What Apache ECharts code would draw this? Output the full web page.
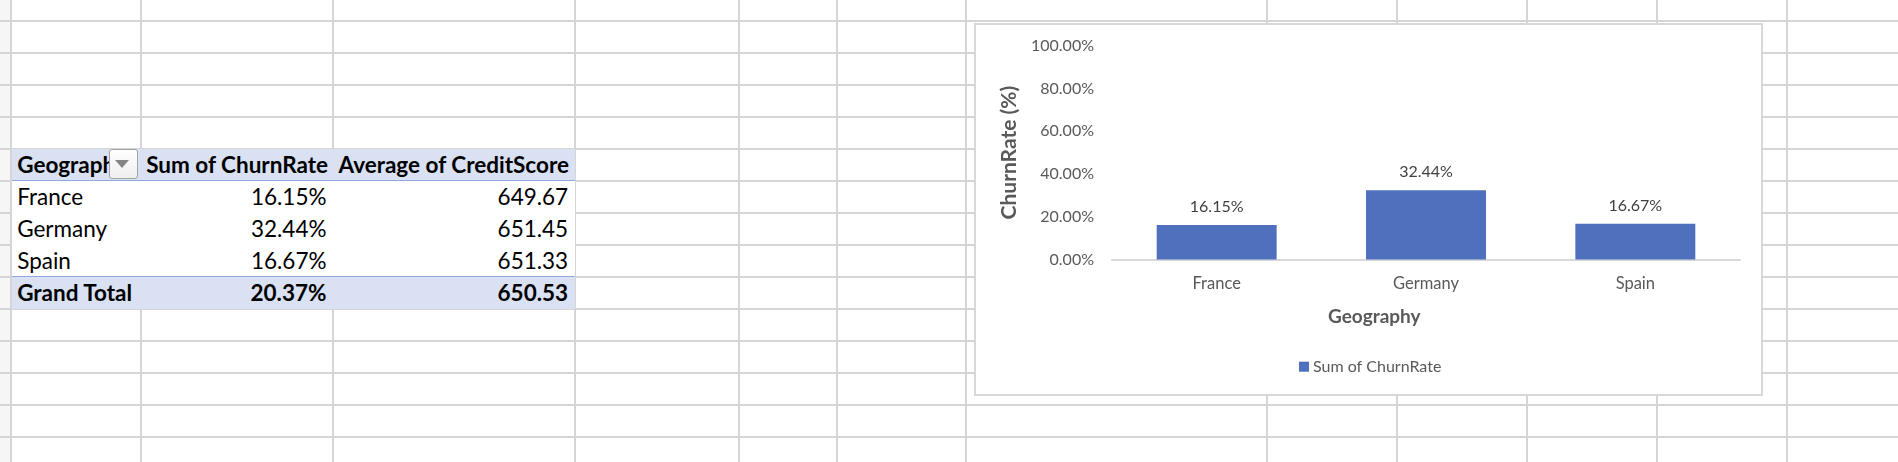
<!DOCTYPE html>
<html>
<head>
<meta charset="utf-8">
<script src="https://cdn.jsdelivr.net/npm/echarts@6/dist/echarts.min.js"></script>
<style>
html,body{margin:0;padding:0;background:#fff;width:1898px;height:462px;overflow:hidden;font-family:Lato,sans-serif;}
.gl{position:absolute;background:#d5d5d5;}
#strip{position:absolute;left:0;top:0;width:10px;height:462px;background:#f6f6f6;}
#table{position:absolute;left:11.7px;top:148.7px;width:563px;height:160px;background:#fff;}
.fill{position:absolute;left:0;width:563px;background:#d9e1f2;}
.bl{position:absolute;left:0;width:563px;height:1.5px;background:#8eaadb;}
.cell{position:absolute;height:32px;line-height:32px;font-size:22.5px;color:#000;white-space:nowrap;overflow:hidden;box-sizing:border-box;}
.l{text-align:left;padding-left:5.5px;}
.r{text-align:right;padding-right:6.5px;}
.b{font-weight:bold;}
#btn{position:absolute;left:97.3px;top:0.6px;width:29.5px;height:29.5px;box-sizing:border-box;border:1.5px solid #a3a3a3;border-radius:3px;background:linear-gradient(#ffffff,#eeeeee);}
#tri{position:absolute;left:5.5px;top:9.5px;width:0;height:0;border-left:7.5px solid transparent;border-right:7.5px solid transparent;border-top:8px solid #858585;}
#chart{position:absolute;left:974px;top:23px;width:789px;height:373px;background:#fff;}
#frame{position:absolute;left:974px;top:23px;width:789px;height:373px;box-sizing:border-box;border:2px solid #d8d8d8;pointer-events:none;}
</style>
</head>
<body>
<div id="strip"></div>
<div id="grid"></div>
<div id="table"></div>
<div id="chart"></div>
<div id="frame"></div>
<script>
// ---- data ----
const geographies = ['France', 'Germany', 'Spain'];
const churnRates = [0.1615, 0.3244, 0.1667];
const creditScores = [649.67, 651.45, 651.33];
const totalLabel = 'Grand Total';
const totalChurn = 0.2037;
const totalCredit = 650.53;
const tableHeaders = ['Geography', 'Sum of ChurnRate', 'Average of CreditScore'];
const seriesName = 'Sum of ChurnRate';
const xAxisTitle = 'Geography';
const yAxisTitle = 'ChurnRate (%)';

// ---- layout (sheet decoration) ----
const colLines = [10.7, 140.7, 333, 575, 739, 837, 966.3, 1267, 1397, 1527, 1657, 1787];
const rowLines = [21, 52.7, 84.7, 116.7, 148.7, 180.7, 212.7, 244.7, 276.7, 308.7, 340.7, 372.7, 404.7, 436.7];
const colEdges = [0, 129, 321.3, 563]; // table-local column boundaries

const pct = v => (v * 100).toFixed(2) + '%';

const grid = document.getElementById('grid');
colLines.forEach(c => {
  const d = document.createElement('div');
  d.className = 'gl';
  d.style.cssText = `left:${c - 1}px;top:0;width:2px;height:462px;`;
  grid.appendChild(d);
});
rowLines.forEach(r => {
  const d = document.createElement('div');
  d.className = 'gl';
  d.style.cssText = `left:0;top:${r - 1}px;width:1898px;height:2px;`;
  grid.appendChild(d);
});

// ---- pivot table ----
const table = document.getElementById('table');
function addEl(cls, css, text) {
  const d = document.createElement('div');
  d.className = cls;
  d.style.cssText = css;
  if (text !== undefined) d.textContent = text;
  table.appendChild(d);
  return d;
}
addEl('fill', 'top:0;height:32px;');
addEl('fill', 'top:128.3px;height:31.7px;');
addEl('bl', 'top:31.3px;');
addEl('bl', 'top:127px;');

function cell(row, col, text, align, bold) {
  const x0 = colEdges[col], x1 = colEdges[col + 1];
  addEl('cell ' + align + (bold ? ' b' : ''), `left:${x0}px;width:${x1 - x0}px;top:${row * 32}px;`, text);
}
tableHeaders.forEach((h, i) => cell(0, i, h, 'l', true));
geographies.forEach((g, i) => {
  cell(i + 1, 0, g, 'l', false);
  cell(i + 1, 1, pct(churnRates[i]), 'r', false);
  cell(i + 1, 2, creditScores[i].toFixed(2), 'r', false);
});
const gtRow = geographies.length + 1;
cell(gtRow, 0, totalLabel, 'l', true);
cell(gtRow, 1, pct(totalChurn), 'r', true);
cell(gtRow, 2, totalCredit.toFixed(2), 'r', true);
const btn = addEl('', '');
btn.id = 'btn';
const tri = document.createElement('div');
tri.id = 'tri';
btn.appendChild(tri);

// ---- chart ----
const chart = echarts.init(document.getElementById('chart'), null, {renderer: 'canvas'});
chart.setOption({
  animation: false,
  backgroundColor: '#fff',
  textStyle: {fontFamily: 'Lato'},
  grid: {left: 138, right: 23, top: 22.7, bottom: 136.5, containLabel: false},
  legend: {
    data: [seriesName],
    left: 325,
    top: 335.7,
    padding: 0,
    icon: 'rect',
    itemWidth: 10,
    itemHeight: 10,
    itemGap: 10,
    textStyle: {color: '#595959', fontSize: 16, lineHeight: 16, padding: [0, 0, 0, -1]}
  },
  xAxis: {
    type: 'category',
    data: geographies,
    axisLine: {show: true, lineStyle: {color: '#d9d9d9', width: 2}},
    axisTick: {show: false},
    axisLabel: {color: '#595959', fontSize: 16.5, lineHeight: 16, margin: 16.5},
    splitLine: {show: false}
  },
  yAxis: {
    type: 'value',
    min: 0,
    max: 1,
    interval: 0.2,
    axisLine: {show: false},
    axisTick: {show: false},
    splitLine: {show: false},
    axisLabel: {color: '#595959', fontSize: 16, margin: 18, formatter: v => pct(v)},
    name: yAxisTitle,
    nameLocation: 'middle',
    nameRotate: 90,
    nameGap: 79,
    nameTextStyle: {color: '#595959', fontSize: 21, fontWeight: 'bold', lineHeight: 21}
  },
  graphic: [{
    type: 'text',
    left: 401 - 47,
    top: 296.3 - 11.5,
    style: {text: xAxisTitle, fill: '#595959', font: 'bold 19px Lato'}
  }],
  series: [{
    name: seriesName,
    type: 'bar',
    data: churnRates,
    barCategoryGap: '42.7%',
    itemStyle: {color: '#4e70bd'},
    label: {
      show: true,
      position: 'top',
      distance: 10,
      color: '#404040',
      fontSize: 16,
      lineHeight: 16,
      formatter: p => pct(p.value)
    }
  }]
});
</script>
</body>
</html>
